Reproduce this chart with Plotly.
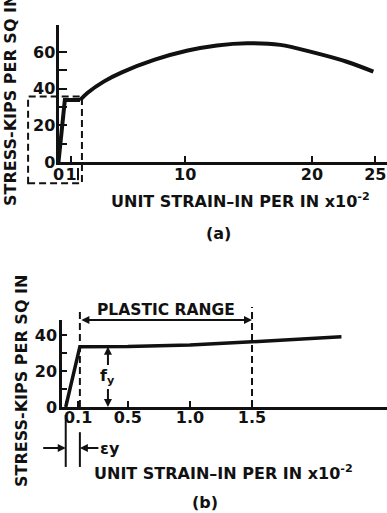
import plotly.graph_objects as go

W, H = 387, 513

# ---- (a) complete stress-strain curve (strain x 1e-2 in/in, stress ksi) ----
a_strain_yield = [0.0, 0.5, 1.7]
a_stress_yield = [0.0, 33.8, 33.8]
a_strain_hard = [1.7, 2.3, 3.6, 5.0, 7.6, 10.2, 12.5, 14.9, 17.5, 20.1, 22.75, 24.85]
a_stress_hard = [33.8, 37.8, 44.0, 48.9, 55.8, 60.8, 63.6, 64.8, 63.9, 59.8, 54.7, 49.3]
a_x_ticks = [0, 1, 10, 20, 25]
a_x_labels = ["0", "1", "10", "20", "25"]
a_y_ticks = [0, 10, 20, 30, 40, 50, 60]
a_y_labels = ["0", "", "20", "", "40", "", "60"]

# ---- (b) initial portion, enlarged ----
b_strain = [0.0, 0.114, 0.5, 1.0, 1.5, 2.22]
b_stress = [0.0, 33.5, 33.6, 34.5, 36.2, 39.0]
eps_y = 0.114
f_y = 33.5
plastic_end = 1.5
b_x_ticks = [0, 0.1, 0.5, 1.0, 1.5]
b_x_labels = ["", "0.1", "0.5", "1.0", "1.5"]
b_y_ticks = [0, 10, 20, 30, 40]
b_y_labels = ["0", "", "20", "", "40"]

# plot frames in pixels
A_BOX = dict(l=58.5, r=W, t=25, b=162)
B_BOX = dict(l=62, r=W, t=320, b=407)
A_XR = [0, (W - 58.5) / 12.67]
A_YR = [0, (162 - 25) / 1.833]
B_XR = [-0.03, -0.03 + (W - 62) / 124.2]
B_YR = [0, (407 - 320) / 1.8]

FONT = "DejaVu Sans"
BLACK = "#111"


def domains(box):
    return [box["l"] / W, box["r"] / W], [1 - box["b"] / H, 1 - box["t"] / H]


def to_pixels(box, xr, yr, xv, yv):
    px = box["l"] + (xv - xr[0]) / (xr[1] - xr[0]) * (box["r"] - box["l"])
    py = box["b"] - (yv - yr[0]) / (yr[1] - yr[0]) * (box["b"] - box["t"])
    return px, py


def pix(px, py):
    return px / W, 1 - py / H


def pa(xv, yv):
    return pix(*to_pixels(A_BOX, A_XR, A_YR, xv, yv))


def pb(xv, yv):
    return pix(*to_pixels(B_BOX, B_XR, B_YR, xv, yv))


fig = go.Figure()
fig.add_trace(go.Scatter(x=a_strain_yield, y=a_stress_yield, mode="lines",
                         line=dict(color=BLACK, width=4), xaxis="x", yaxis="y"))
fig.add_trace(go.Scatter(x=a_strain_hard, y=a_stress_hard, mode="lines",
                         line=dict(color=BLACK, width=4, shape="spline", smoothing=1.0),
                         xaxis="x", yaxis="y"))
fig.add_trace(go.Scatter(x=b_strain, y=b_stress, mode="lines",
                         line=dict(color=BLACK, width=3.5), xaxis="x2", yaxis="y2"))

axfont = dict(family=FONT, size=16, color=BLACK, weight="bold")
common = dict(showgrid=False, zeroline=False, showline=True, linecolor=BLACK,
              ticks="inside", tickcolor=BLACK, tickwidth=2, tickfont=axfont,
              tickmode="array", fixedrange=True, automargin=False, tickangle=0)

ax_dom, ay_dom = domains(A_BOX)
bx_dom, by_dom = domains(B_BOX)

fig.update_layout(
    width=W, height=H, autosize=False,
    margin=dict(l=0, r=0, t=0, b=0, pad=0),
    paper_bgcolor="white", plot_bgcolor="white",
    showlegend=False,
    xaxis=dict(domain=ax_dom, range=A_XR, anchor="y", tickvals=a_x_ticks,
               ticktext=a_x_labels, ticklen=6, linewidth=3, ticklabelstandoff=-4, **common),
    yaxis=dict(domain=ay_dom, range=A_YR, anchor="x", tickvals=a_y_ticks,
               ticktext=a_y_labels, ticklen=8, linewidth=3, ticklabelstandoff=-3, **common),
    xaxis2=dict(domain=bx_dom, range=B_XR, anchor="y2", tickvals=b_x_ticks,
                ticktext=b_x_labels, ticklen=6, linewidth=2.5, ticklabelstandoff=-6, **common),
    yaxis2=dict(domain=by_dom, range=B_YR, anchor="x2", tickvals=b_y_ticks,
                ticktext=b_y_labels, ticklen=5, linewidth=2.5, ticklabelstandoff=-1, **common),
)

shapes = []
DASH = "7px,4px"


def seg(p0, p1, dash=None):
    shapes.append(dict(type="line", xref="paper", yref="paper",
                       x0=p0[0], y0=p0[1], x1=p1[0], y1=p1[1],
                       line=dict(color=BLACK, width=2, dash=dash)))


# (a) dashed frame around the region enlarged in (b)
x0, y0 = pa(-2.4, -11.6)
x1, y1 = pa(1.85, 35.8)
shapes.append(dict(type="rect", xref="paper", yref="paper", x0=x0, y0=y0, x1=x1, y1=y1,
                   line=dict(color=BLACK, width=2, dash=DASH)))
# (a) short mark below the axis at the end of the plateau
seg(pa(1.54, -3.3), pa(1.54, -9.9))

# (b) dashed verticals at yield strain and end of plastic range
seg(pb(eps_y, 0), pb(eps_y, 52.8), DASH)
seg(pb(plastic_end, 0), pb(plastic_end, 55.5), DASH)
# (b) extension lines for the yield-strain dimension
seg(pb(0, -4.4), pb(0, -33.3))
seg(pb(eps_y, -14.0), pb(eps_y, -33.3))

fig.update_layout(shapes=shapes)

ann = []
tfont = dict(family=FONT, size=16, color=BLACK, weight="bold")
arrow = dict(showarrow=True, arrowhead=2, arrowsize=0.8, arrowwidth=2,
             arrowcolor=BLACK, standoff=0)


def label(px, py, text, angle=0, size=16):
    x, y = pix(px, py)
    ann.append(dict(x=x, y=y, xref="paper", yref="paper", text=text, showarrow=False,
                    textangle=angle, xanchor="center", yanchor="middle",
                    font=dict(tfont, size=size)))


XTITLE = "UNIT STRAIN\u2013IN PER IN x10<sup>-2</sup>"
YTITLE = "STRESS-KIPS PER SQ IN"
label(240, 200, XTITLE)
label(10, 100, YTITLE, angle=-90)
label(218, 233, "(a)")
label(223, 472, XTITLE)
label(21, 381, YTITLE, angle=-90)
label(205, 502, "(b)")

# plastic range dimension
ann.append(dict(x=plastic_end, y=B_YR[1], xref="x2", yref="y2",
                ax=eps_y, ay=B_YR[1], axref="x2", ayref="y2",
                text="", arrowside="end+start", **arrow))
px_, py_ = pb(0.81, 53.9)
ann.append(dict(x=px_, y=py_, xref="paper", yref="paper", text="PLASTIC RANGE",
                showarrow=False, font=dict(tfont, size=15.5)))

# yield stress dimension
fy_x, fy_text_y = 0.34, 16.7
ann.append(dict(x=fy_x, y=f_y, xref="x2", yref="y2", ax=fy_x, ay=fy_text_y,
                axref="x2", ayref="y2", text="f<sub>y</sub>",
                font=dict(tfont, size=16), **arrow))
ann.append(dict(x=fy_x, y=0, xref="x2", yref="y2", ax=fy_x, ay=fy_text_y,
                axref="x2", ayref="y2", text="f<sub>y</sub>",
                font=dict(tfont, size=16, color="rgba(0,0,0,0)"), **arrow))

# yield strain dimension (below the axis, so placed in paper space)
dim_y = -22.8
hx, hy = pb(0, dim_y)
ann.append(dict(x=hx, y=hy, xref="paper", yref="paper", ax=-24, ay=0, text="", **arrow))
hx, hy = pb(eps_y, dim_y)
ann.append(dict(x=hx, y=hy, xref="paper", yref="paper", ax=30, ay=0, text="\u03b5y",
                font=dict(tfont, size=16), **arrow))

fig.update_layout(annotations=ann)

fig.write_html("out.html")
